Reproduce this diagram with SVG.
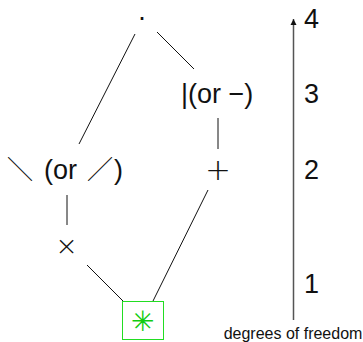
<svg xmlns="http://www.w3.org/2000/svg" width="363" height="342" viewBox="0 0 363 342">
<style>
.t{font-family:"Liberation Sans",Arial,sans-serif;font-size:27px;fill:#111}
.c{stroke:#111;stroke-width:1;fill:none}
.sym{font-family:"DejaVu Sans",sans-serif;fill:#111;font-weight:200}
.dg{font-family:"Noto Sans CJK JP","Noto Sans CJK SC",sans-serif;font-size:24px;font-weight:300;fill:#111}
.lbl{font-family:"Liberation Sans",Arial,sans-serif;font-size:16px;fill:#111}
</style>
<defs>
<marker id="ah" viewBox="0 0 10 10" refX="10" refY="5" markerWidth="6" markerHeight="8" markerUnits="userSpaceOnUse" orient="auto">
<path d="M0,0 L10,5 L0,10 Z" fill="#111"/>
</marker>
</defs>
<g id="connectors">
<line class="c" x1="135" y1="34" x2="79" y2="144"/>
<line class="c" x1="157" y1="32" x2="194" y2="69"/>
<line class="c" x1="218" y1="118" x2="218" y2="149"/>
<line class="c" x1="208" y1="190" x2="153" y2="301"/>
<line class="c" x1="67" y1="195" x2="67" y2="225"/>
<line class="c" x1="87" y1="265" x2="123" y2="301"/>
</g>
<g id="node-dot"><text class="t" x="142" y="26" text-anchor="middle">·</text></g>
<g id="node-bar"><text class="t" x="181" y="103">|(or −)</text></g>
<g id="node-plus"><text class="sym" x="218" y="180" font-size="31" text-anchor="middle">+</text></g>
<g id="node-diag">
<text class="dg" x="8" y="178">╲</text>
<text class="t" x="44" y="179">(or</text>
<text class="dg" x="88" y="178">╱</text>
<text class="t" x="114" y="179">)</text>
</g>
<g id="node-times"><text class="sym" x="66.5" y="255" font-size="27" text-anchor="middle">×</text></g>
<g id="node-ast">
<rect x="122.5" y="301.5" width="41" height="38" fill="none" stroke="#22dd22" stroke-width="1"/>
<text class="sym" x="142.5" y="331" font-size="28" text-anchor="middle" style="fill:#11cc11">✳</text>
</g>
<g id="axis">
<line x1="293.5" y1="320" x2="293.5" y2="19" stroke="#555" stroke-width="1.5" marker-end="url(#ah)"/>
<text class="t" x="304" y="28">4</text>
<text class="t" x="304" y="103">3</text>
<text class="t" x="304" y="179">2</text>
<text class="t" x="304" y="293">1</text>
<text class="lbl" x="293" y="339" text-anchor="middle">degrees of freedom</text>
</g>
</svg>
